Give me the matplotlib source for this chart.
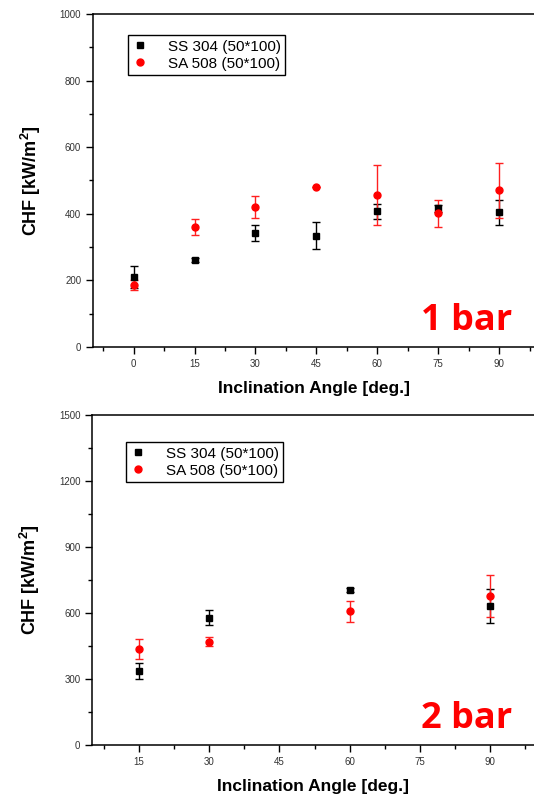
import matplotlib.pyplot as plt
from matplotlib.ticker import MultipleLocator
from matplotlib.lines import Line2D

plt.rcParams['font.family'] = ['Liberation Sans', 'DejaVu Sans']
plt.rcParams['mathtext.default'] = 'regular'

# 1 bar data
angle_1 = [0, 15, 30, 45, 60, 75, 90]
ss304_1 = [209, 261, 342, 334, 407, 416, 404]
ss304_1_err = [33, 6, 25, 41, 23, 10, 38]
sa508_1 = [185, 360, 420, 480, 456, 401, 470]
sa508_1_err = [15, 23, 34, 0, 90, 41, 83]

# 2 bar data
angle_2 = [15, 30, 60, 90]
ss304_2 = [336, 578, 704, 631]
ss304_2_err = [38, 33, 10, 76]
sa508_2 = [436, 469, 607, 675]
sa508_2_err = [45, 20, 47, 95]

labels = ['SS 304 (50*100)', 'SA 508 (50*100)']

W, H = 534, 801
fig = plt.figure(figsize=(W / 100, H / 100), dpi=100)

ax1 = fig.add_axes([93 / W, 1 - 347 / H, 441 / W, 333 / H])
ax2 = fig.add_axes([92.3 / W, 1 - 745 / H, 441.7 / W, 330.3 / H])

panels = [
    (ax1, angle_1, ss304_1, ss304_1_err, sa508_1, sa508_1_err, (-10, 98.6), (0, 1000), 200, '1 bar', (0.079, 0.937)),
    (ax2, angle_2, ss304_2, ss304_2_err, sa508_2, sa508_2_err, (5, 99.4), (0, 1500), 300, '2 bar', (0.076, 0.917)),
]

for ax, ang, ss, sse, sa, sae, xl, yl, ymaj, tag, legpos in panels:
    ax.errorbar(ang, ss, yerr=sse, fmt='s', color='black', ms=4.5, capsize=3,
                elinewidth=1, capthick=1, zorder=3)
    ax.errorbar(ang, sa, yerr=sae, fmt='o', color='#ff0000', ecolor='#ff2020', ms=5, capsize=3,
                elinewidth=1, capthick=1, zorder=3)
    ax.set_xlim(*xl)
    ax.set_ylim(*yl)
    ax.xaxis.set_major_locator(MultipleLocator(15))
    ax.xaxis.set_minor_locator(MultipleLocator(7.5))
    ax.yaxis.set_major_locator(MultipleLocator(ymaj))
    ax.yaxis.set_minor_locator(MultipleLocator(ymaj / 2))
    ax.spines['right'].set_visible(False)
    for s in ['left', 'bottom', 'top']:
        ax.spines[s].set_linewidth(1.1)
    ax.tick_params(which='major', direction='out', length=5, width=1, labelsize=7, labelcolor='#333333')
    ax.tick_params(which='minor', direction='out', length=3, width=1)
    ax.tick_params(top=False, right=False, which='both')
    ax.set_xlabel('Inclination Angle [deg.]', fontsize=12.5, fontweight='bold', labelpad=9)
    ax.set_ylabel('CHF [kW/m$^{2}$]', fontsize=13, fontweight='bold', labelpad=12)
    ax.text(0.95, 0.05, tag, transform=ax.transAxes, ha='right', va='baseline',
            color='#ff0000', fontsize=26, fontweight='bold', family=['Open Sans', 'DejaVu Sans'])

    handles = [
        Line2D([], [], ls='none', marker='s', color='black', ms=4.5),
        Line2D([], [], ls='none', marker='o', color='#ff0000', ms=5),
    ]
    leg = ax.legend(handles, labels, loc='upper left', bbox_to_anchor=legpos, borderaxespad=0,
                    fancybox=False, edgecolor='black', fontsize=11, handlelength=1.0,
                    handletextpad=1.3, borderpad=0.3, labelspacing=0.2, framealpha=1)
    leg.get_frame().set_linewidth(1)

fig.savefig('out.png', dpi=100)
